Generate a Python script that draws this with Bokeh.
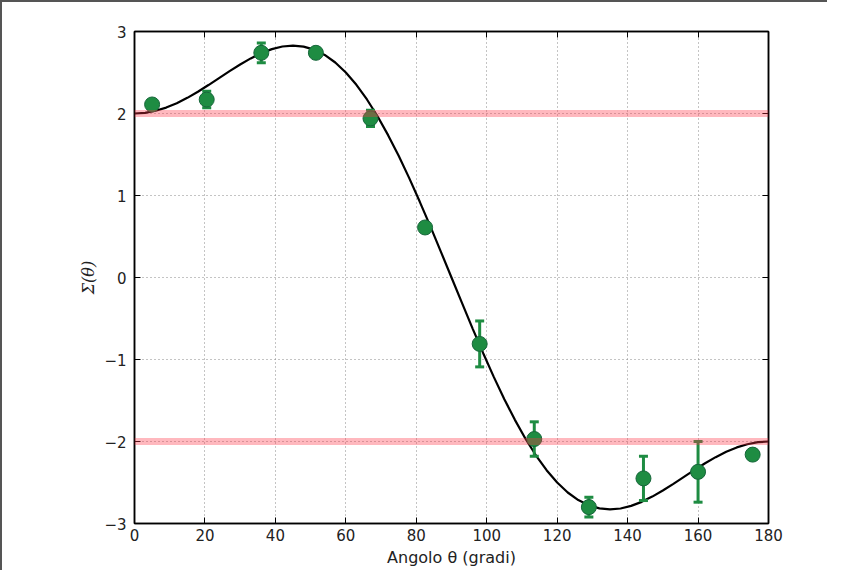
from bokeh.plotting import figure
from bokeh.models import Span, LinearAxis, Range1d, FixedTicker
from bokeh.embed import file_html
from bokeh.resources import INLINE

# Measured data (angle in degrees, Sigma, error)
theta_pts = [5, 20.5, 36, 51.5, 67, 82.5, 98, 113.5, 129, 144.5, 160, 175.5]
sigma_pts = [2.11, 2.17, 2.74, 2.74, 1.94, 0.61, -0.81, -1.97, -2.80, -2.45, -2.37, -2.16]
sigma_err = [0.05, 0.10, 0.12, 0.03, 0.10, 0.03, 0.28, 0.21, 0.12, 0.27, 0.37, 0.03]

# Theoretical curve (every 3 degrees)
theta_curve = list(range(0, 181, 3))
sigma_curve = [2.000, 2.008, 2.033, 2.072, 2.125, 2.191, 2.265, 2.347, 2.432, 2.517,
               2.598, 2.672, 2.736, 2.785, 2.817, 2.828, 2.816, 2.779, 2.714, 2.622,
               2.500, 2.350, 2.171, 1.966, 1.736, 1.484, 1.212, 0.923, 0.623, 0.313,
               0.000,
               -0.313, -0.623, -0.923, -1.212, -1.484, -1.736, -1.966, -2.171, -2.350,
               -2.500, -2.622, -2.714, -2.779, -2.816, -2.828, -2.817, -2.785, -2.736,
               -2.672, -2.598, -2.517, -2.432, -2.347, -2.265, -2.191, -2.125, -2.072,
               -2.033, -2.008, -2.000]

# Classical limits
limits = [2, -2]

x_ticks = [0, 20, 40, 60, 80, 100, 120, 140, 160, 180]
y_ticks = [-3, -2, -1, 0, 1, 2, 3]

GREEN = "#1e8c42"
FONT = "DejaVu Sans"

p = figure(width=827, height=570, output_backend="svg", toolbar_location=None,
           x_range=Range1d(0, 180), y_range=Range1d(-3, 3),
           min_border_left=132, min_border_right=61, min_border_top=29, min_border_bottom=49)
p.styles = {"border-top": "2px solid #555", "border-left": "2px solid #555"}
p.background_fill_color = "white"
p.border_fill_color = "white"
p.outline_line_color = "black"
p.outline_line_width = 1.5

for ax in (p.xaxis[0], p.yaxis[0]):
    ax.major_tick_in = 6
    ax.major_tick_out = 0
    ax.minor_tick_line_color = None
    ax.axis_line_color = "black"
    ax.axis_line_width = 1.5
    ax.major_tick_line_width = 1
    ax.major_label_text_font = FONT
    ax.major_label_text_font_size = "15px"
    ax.major_label_text_color = "#222222"
    ax.axis_label_text_font_size = "16px"
    ax.axis_label_text_color = "#222222"

p.xaxis[0].ticker = FixedTicker(ticks=x_ticks)
p.yaxis[0].ticker = FixedTicker(ticks=y_ticks)
p.xaxis[0].major_label_standoff = 5
p.yaxis[0].major_label_standoff = 8
p.xaxis[0].axis_label = "Angolo θ (gradi)"
p.xaxis[0].axis_label_text_font = FONT
p.xaxis[0].axis_label_text_font_style = "normal"
p.xaxis[0].axis_label_standoff = 4
p.yaxis[0].axis_label = "Σ(θ)"
p.yaxis[0].axis_label_text_font = "DejaVu Serif"
p.yaxis[0].axis_label_text_font_style = "italic"
p.yaxis[0].axis_label_standoff = 3

# Mirror ticks on top and right (no labels)
top = LinearAxis(ticker=FixedTicker(ticks=x_ticks),
                 major_label_overrides={t: "" for t in x_ticks},
                 major_tick_in=6, major_tick_out=0, minor_tick_line_color=None,
                 axis_line_color="black", axis_line_width=1.5, major_label_standoff=0)
right = LinearAxis(ticker=FixedTicker(ticks=y_ticks),
                   major_label_overrides={t: "" for t in y_ticks},
                   major_tick_in=6, major_tick_out=0, minor_tick_line_color=None,
                   axis_line_color="black", axis_line_width=1.5, major_label_standoff=0)
p.add_layout(top, "above")
p.add_layout(right, "right")

p.xgrid.ticker = FixedTicker(ticks=x_ticks)
p.ygrid.ticker = FixedTicker(ticks=y_ticks)
for g in (p.xgrid[0], p.ygrid[0]):
    g.grid_line_color = "#888888"
    g.grid_line_dash = "1 3"
    g.grid_line_width = 1

for lim in limits:
    p.add_layout(Span(location=lim, dimension="width", line_color="#ff3344",
                      line_alpha=0.35, line_width=7))

p.line(theta_curve, sigma_curve, line_color="black", line_width=2.2)

lo = [s - e for s, e in zip(sigma_pts, sigma_err)]
hi = [s + e for s, e in zip(sigma_pts, sigma_err)]
p.segment(x0=theta_pts, x1=theta_pts, y0=lo, y1=hi, line_color=GREEN, line_width=3)
p.scatter(theta_pts, lo, marker="dash", size=9, line_color=GREEN, line_width=3)
p.scatter(theta_pts, hi, marker="dash", size=9, line_color=GREEN, line_width=3)
p.scatter(theta_pts, sigma_pts, marker="circle", size=15, fill_color=GREEN,
          line_color="#16663a", line_width=1)

open("out.html", "w").write(file_html(p, INLINE))
